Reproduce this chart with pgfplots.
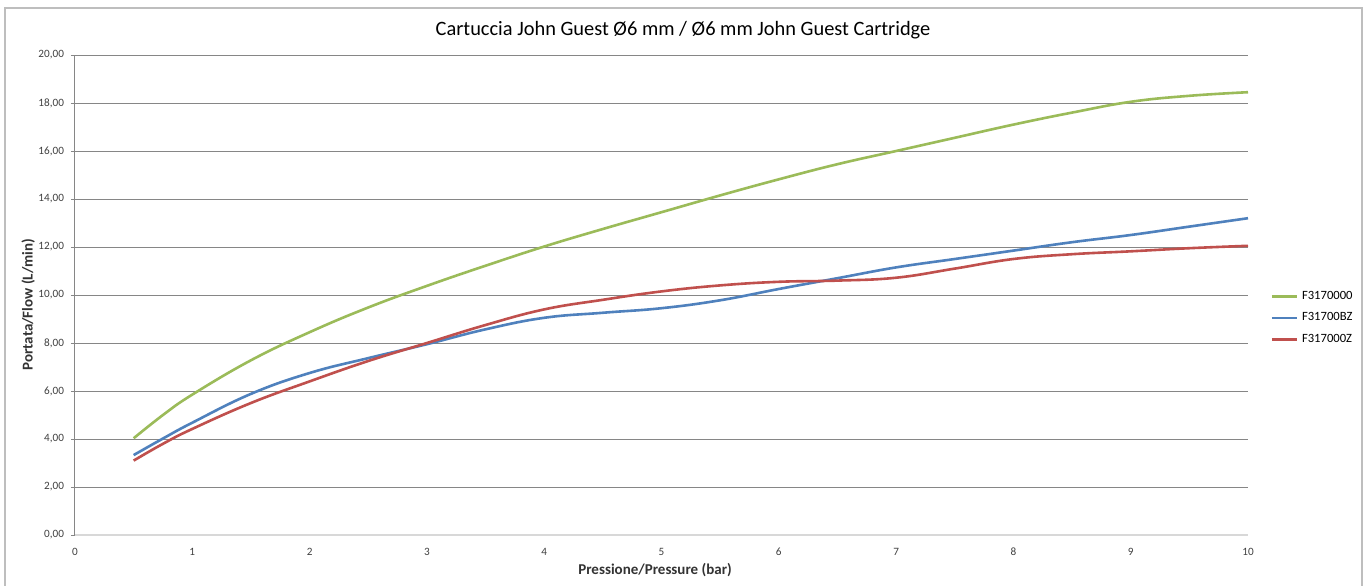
\documentclass[border=0pt]{standalone}
\usepackage{pgfplots}
\pgfplotsset{compat=1.18}
\usepackage{fontspec}
\setmainfont{Carlito}

\definecolor{xlgreen}{RGB}{155,187,89}
\definecolor{xlblue}{RGB}{79,129,189}
\definecolor{xlred}{RGB}{192,80,77}
\definecolor{gridgray}{RGB}{134,134,134}
\definecolor{framegray}{RGB}{190,190,190}

\begin{document}
\begin{tikzpicture}
  % page = 1369 x 585 px, 1 px = 0.5pt, origin at the plot area's lower left (75,535)
  \useasboundingbox[fill=white] (-37.5pt,-25pt) rectangle (647pt,267.5pt);
  \draw[framegray, line width=0.8pt] (-35pt,-30pt) -- (-35pt,263.5pt) -- (643.5pt,263.5pt) -- (643.5pt,-30pt);
  \node[font=\fontsize{10.2}{12}\selectfont] at (304pt,252.5pt)
    {Cartuccia John Guest Ø6 mm / Ø6 mm John Guest Cartridge};
  \begin{axis}[
    at={(0pt,0pt)}, anchor=south west,
    scale only axis, width=586.5pt, height=240pt,
    xmin=0, xmax=10, ymin=0, ymax=20,
    xtick={0,1,...,10}, ytick={0,2,...,20},
    axis x line*=bottom, axis y line*=left,
    x axis line style={draw=framegray!60, line width=1pt},
    y axis line style={draw=gridgray, line width=0.5pt},
    ymajorgrids, grid style={gridgray, line width=0.5pt},
    tick align=outside, major tick length=2pt,
    xtick style={draw=none}, ytick style={gridgray, line width=0.5pt},
    /pgf/number format/assume math mode=true,
    yticklabel={\pgfmathprintnumber[fixed, fixed zerofill, precision=2, use comma]{\tick}},
    ticklabel style={font=\fontsize{5.6}{6}\selectfont, text=black!75},
    xticklabel style={yshift=-1pt},
    xlabel={Pressione/Pressure (bar)},
    ylabel={Portata/Flow (L/min)},
    label style={font=\bfseries\fontsize{7.5}{8}\selectfont, text=black!80},
    xlabel style={at={(rel axis cs:0.4945,-0.073)}, anchor=center},
    ylabel style={at={(rel axis cs:-0.040,0.48)}, anchor=center, rotate=0},
    legend style={at={(rel axis cs:1.0188,0.452)}, anchor=west, draw=none, fill=none,
      font=\fontsize{6.3}{7}\selectfont, row sep=1.2pt, inner xsep=0pt,
      legend cell align=left},
    legend image code/.code={\draw[#1] (0pt,0pt) -- (12.5pt,0pt);},
    every axis plot/.append style={line width=1.3pt, smooth, tension=0.7},
  ]
  \addplot[xlgreen] coordinates {
    (0.5,4.03) (0.75,5.0) (1,5.85) (1.5,7.28) (2,8.45) (2.5,9.48) (3,10.38)
    (3.5,11.22) (4,12.02) (4.5,12.75) (5,13.45) (5.5,14.15) (6,14.82)
    (6.5,15.45) (7,16.0) (7.5,16.55) (8,17.1) (8.5,17.6) (9,18.05)
    (9.5,18.3) (10,18.45)};
  \addlegendentry{F3170000}
  \addplot[xlblue] coordinates {
    (0.5,3.33) (0.75,4.02) (1,4.68) (1.5,5.88) (2,6.75) (2.5,7.37) (3,7.95)
    (3.5,8.57) (4,9.05) (4.5,9.26) (5,9.45) (5.5,9.78) (6,10.25)
    (6.5,10.7) (7,11.15) (7.5,11.5) (8,11.85) (8.5,12.2) (9,12.5)
    (9.5,12.85) (10,13.2)};
  \addlegendentry{F31700BZ}
  \addplot[xlred] coordinates {
    (0.5,3.1) (0.75,3.8) (1,4.42) (1.5,5.5) (2,6.4) (2.5,7.25) (3,8.0)
    (3.5,8.75) (4,9.4) (4.5,9.8) (5,10.15) (5.5,10.4) (6,10.55)
    (6.5,10.6) (7,10.72) (7.5,11.1) (8,11.5) (8.5,11.7) (9,11.82)
    (9.5,11.95) (10,12.05)};
  \addlegendentry{F317000Z}
  \end{axis}
\end{tikzpicture}
\end{document}
